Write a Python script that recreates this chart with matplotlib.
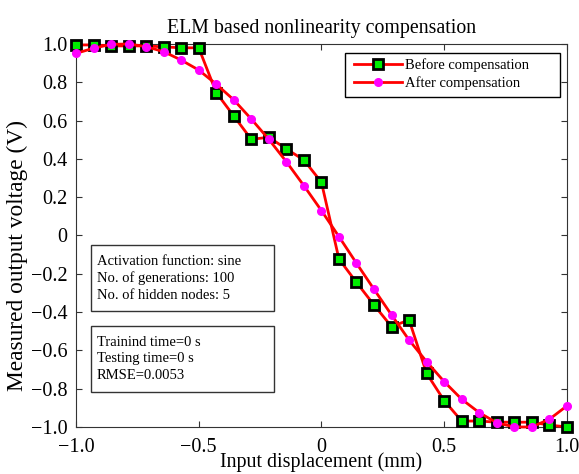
import matplotlib.pyplot as plt
from matplotlib.patches import Rectangle
import numpy as np

plt.rcParams['font.family'] = ['Liberation Serif', 'DejaVu Serif']

# ===================== data =====================
x = np.linspace(-1.0, 1.0, 29)

before = [0.995, 0.995, 0.99, 0.99, 0.99, 0.985, 0.98, 0.98,
          0.746, 0.624, 0.502, 0.513, 0.452, 0.394, 0.278,
          -0.123, -0.245, -0.363, -0.476, -0.441, -0.72, -0.862,
          -0.969, -0.969, -0.975, -0.975, -0.975, -0.99, -1.0]

after = [0.951, 0.978, 0.998, 1.0, 0.986, 0.96, 0.916, 0.864,
         0.79, 0.708, 0.608, 0.502, 0.385, 0.26, 0.13,
         -0.006, -0.145, -0.281, -0.415, -0.546, -0.659, -0.763,
         -0.855, -0.925, -0.978, -1.0, -1.0, -0.96, -0.89]

x_ticks = [-1.0, -0.5, 0, 0.5, 1.0]
x_labels = ['\u22121.0', '\u22120.5', '0', '0.5', '1.0']
y_ticks = [-1.0, -0.8, -0.6, -0.4, -0.2, 0, 0.2, 0.4, 0.6, 0.8, 1.0]
y_labels = ['\u22121.0', '\u22120.8', '\u22120.6', '\u22120.4', '\u22120.2',
            '0', '0.2', '0.4', '0.6', '0.8', '1.0']

info_1 = 'Activation function: sine\nNo. of generations: 100\nNo. of hidden nodes: 5'
info_2 = 'Trainind time=0 s\nTesting time=0 s\nRMSE=0.0053'

# ===================== plot =====================
fig = plt.figure(figsize=(5.79, 4.74), dpi=100)
ax = fig.add_axes([0.1313, 0.0992, 0.8477, 0.808])

ax.plot(x, before, color='red', linewidth=2, marker='s', markersize=6.5,
        markerfacecolor='#00ee00', markeredgecolor='black', markeredgewidth=2,
        label='Before compensation', zorder=3, clip_on=False)
ax.plot(x, after, color='red', linewidth=2, marker='o', markersize=5.5,
        markerfacecolor='#ff00ff', markeredgecolor='#ff00ff',
        label='After compensation', zorder=4, clip_on=False)

ax.set_xlim(-1, 1)
ax.set_ylim(-1, 1)
ax.set_xticks(x_ticks)
ax.set_xticklabels(x_labels)
ax.set_yticks(y_ticks)
ax.set_yticklabels(y_labels)
ax.tick_params(direction='in', top=True, right=True, length=4,
               labelsize=14.5, color='#333333')
ax.tick_params(axis='y', pad=6)
ax.tick_params(axis='x', pad=8)
for s in ax.spines.values():
    s.set_color('#333333')

ax.set_title('ELM based nonlinearity compensation', fontsize=14.3, pad=8)
ax.set_xlabel('Input displacement (mm)', fontsize=14.4)
ax.xaxis.set_label_coords(0.5, -0.067)
ax.set_ylabel('Measured output voltage (V)', fontsize=16.8)
ax.yaxis.set_label_coords(-0.098, 0.449)

# legend: entries without frame, frame drawn as its own box (wide right margin)
leg = ax.legend(loc='upper left', fontsize=10.5, frameon=False,
                borderpad=0, handlelength=3.3, handletextpad=0.2,
                labelspacing=0.3, borderaxespad=0,
                bbox_to_anchor=(0.566, 0.962))
ax.add_patch(Rectangle((0.549, 0.861), 0.4365, 0.1165, transform=ax.transAxes,
                       facecolor='white', edgecolor='black', linewidth=1.0,
                       zorder=5))
leg.set_zorder(6)

# info boxes
for y0 in (0.303, 0.0906):
    ax.add_patch(Rectangle((0.0305, y0), 0.373, 0.172, transform=ax.transAxes,
                           facecolor='white', edgecolor='#333333',
                           linewidth=1.0, zorder=5))
ax.text(0.042, 0.388, info_1, transform=ax.transAxes, fontsize=10.5,
        va='center', ha='left', linespacing=1.36, zorder=6)
ax.text(0.042, 0.1775, info_2, transform=ax.transAxes, fontsize=10.5,
        va='center', ha='left', linespacing=1.36, zorder=6)

fig.savefig('out.png', dpi=100)
